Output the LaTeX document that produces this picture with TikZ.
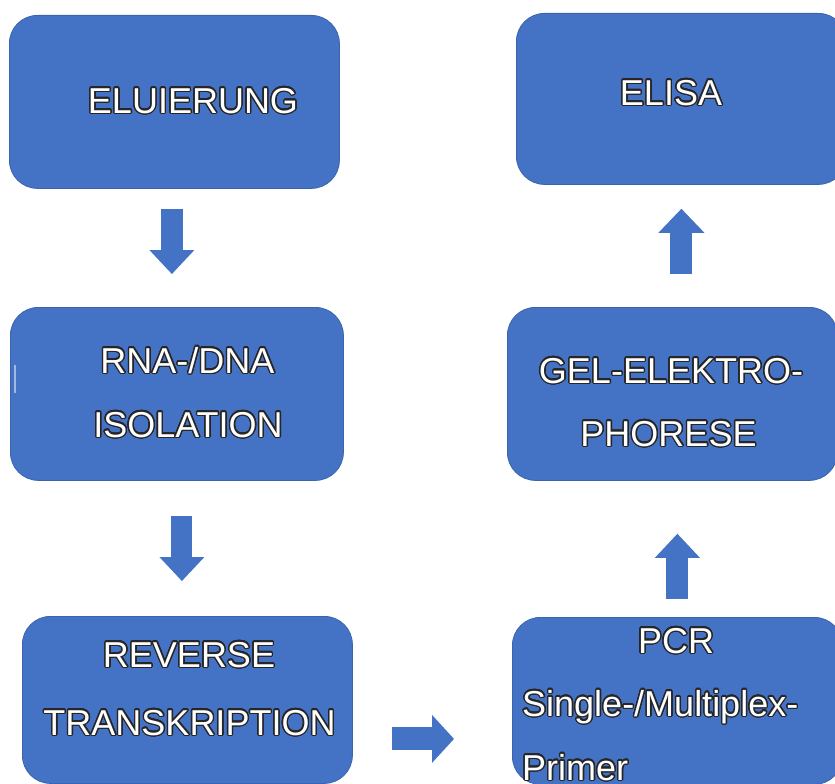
\documentclass[tikz,border=0pt]{standalone}
\usepackage{fontspec}
\setmainfont{Liberation Sans}
\usepackage[copies]{contour}
\usetikzlibrary{arrows.meta}
\contourlength{1.4pt}
\contournumber{24}
\definecolor{boxblue}{HTML}{4472C4}
\definecolor{boxedge}{HTML}{3B64AE}
\definecolor{txtedge}{HTML}{262626}

\begin{document}
\begin{tikzpicture}[x=1pt,y=1pt]
\tikzstyle{every node}+=[inner sep=0pt]
\tikzstyle{stepbox}=[draw=boxedge, fill=boxblue, line width=0.8pt, rounded corners=28pt, anchor=north west, minimum width=330pt]
\tikzstyle{lbl}=[text=white, font=\fontsize{36}{40}\selectfont]
\tikzstyle{blockarrow}=[draw=boxblue, line width=22pt]
\useasboundingbox (0,0) rectangle (835,-784);
\clip (0,0) rectangle (835,-784);
\node [stepbox, minimum height=173pt] (elu) at (9,-15) {};
\node [stepbox, minimum height=171pt] (elisa) at (516,-13) {};
\node [stepbox, minimum height=173pt, minimum width=333pt] (rna) at (10,-307) {};
\node [stepbox, minimum height=173pt] (gel) at (507,-307) {};
\node [stepbox, minimum height=167pt] (rev) at (22,-616) {};
\node [stepbox, minimum height=167pt] (pcr) at (512,-617) {};
\draw [white, opacity=0.5, line width=1.5pt] (15,-365) -- (15,-393);
\node [lbl, anchor=base] (elut) at (193,-113) {\contour{txtedge}{ELUIERUNG}};
\node [lbl, anchor=base] (elisat) at (671,-105) {\contour{txtedge}{ELISA}};
\node [lbl, anchor=base] (rnat) at (187.5,-373) {\contour{txtedge}{RNA-/DNA}};
\node [lbl, anchor=base] (isot) at (188,-437) {\contour{txtedge}{ISOLATION}};
\node [lbl, anchor=base] (gelt) at (671,-383) {\contour{txtedge}{GEL-ELEKTRO-}};
\node [lbl, anchor=base] (phot) at (668.5,-446) {\contour{txtedge}{PHORESE}};
\node [lbl, anchor=base] (revt) at (189,-667) {\contour{txtedge}{REVERSE}};
\node [lbl, anchor=base] (trat) at (189.5,-735) {\contour{txtedge}{TRANSKRIPTION}};
\node [lbl, anchor=base] (pcrt) at (676,-653) {\contour{txtedge}{PCR}};
\node [lbl, anchor=base west] (mult) at (522,-716) {\contour{txtedge}{Single-/Multiplex-}};
\node [lbl, anchor=base west] (prit) at (522,-780) {\contour{txtedge}{Primer}};
\coordinate (a1) at ([shift={(-2.5,-20)}]elu.south);
\coordinate (a2) at ([shift={(5,-35)}]rna.south);
\coordinate (a3) at ([shift={(39,-39)}]rev.east);
\coordinate (a4) at ([shift={(0,18)}]pcr.north);
\coordinate (a5) at ([shift={(9,33)}]gel.north);
\draw [blockarrow, -{Triangle[length=24pt,width=45pt,line width=0pt]}] (a1) -- ([yshift=33pt]a1 |- rna.north);
\draw [blockarrow, line width=21pt, -{Triangle[length=24pt,width=45pt,line width=0pt]}] (a2) -- ([yshift=35pt]a2 |- rev.north);
\draw [blockarrow, line width=23pt, -{Triangle[length=22pt,width=48pt,line width=0pt]}] (a3) -- ([xshift=-58pt]a3 -| pcr.west);
\draw [blockarrow, -{Triangle[length=24pt,width=45pt,line width=0pt]}] (a4) -- ([yshift=-53pt]a4 |- gel.south);
\draw [blockarrow, -{Triangle[length=24pt,width=46pt,line width=0pt]}] (a5) -- ([yshift=-24pt]a5 |- elisa.south);
\end{tikzpicture}
\end{document}
